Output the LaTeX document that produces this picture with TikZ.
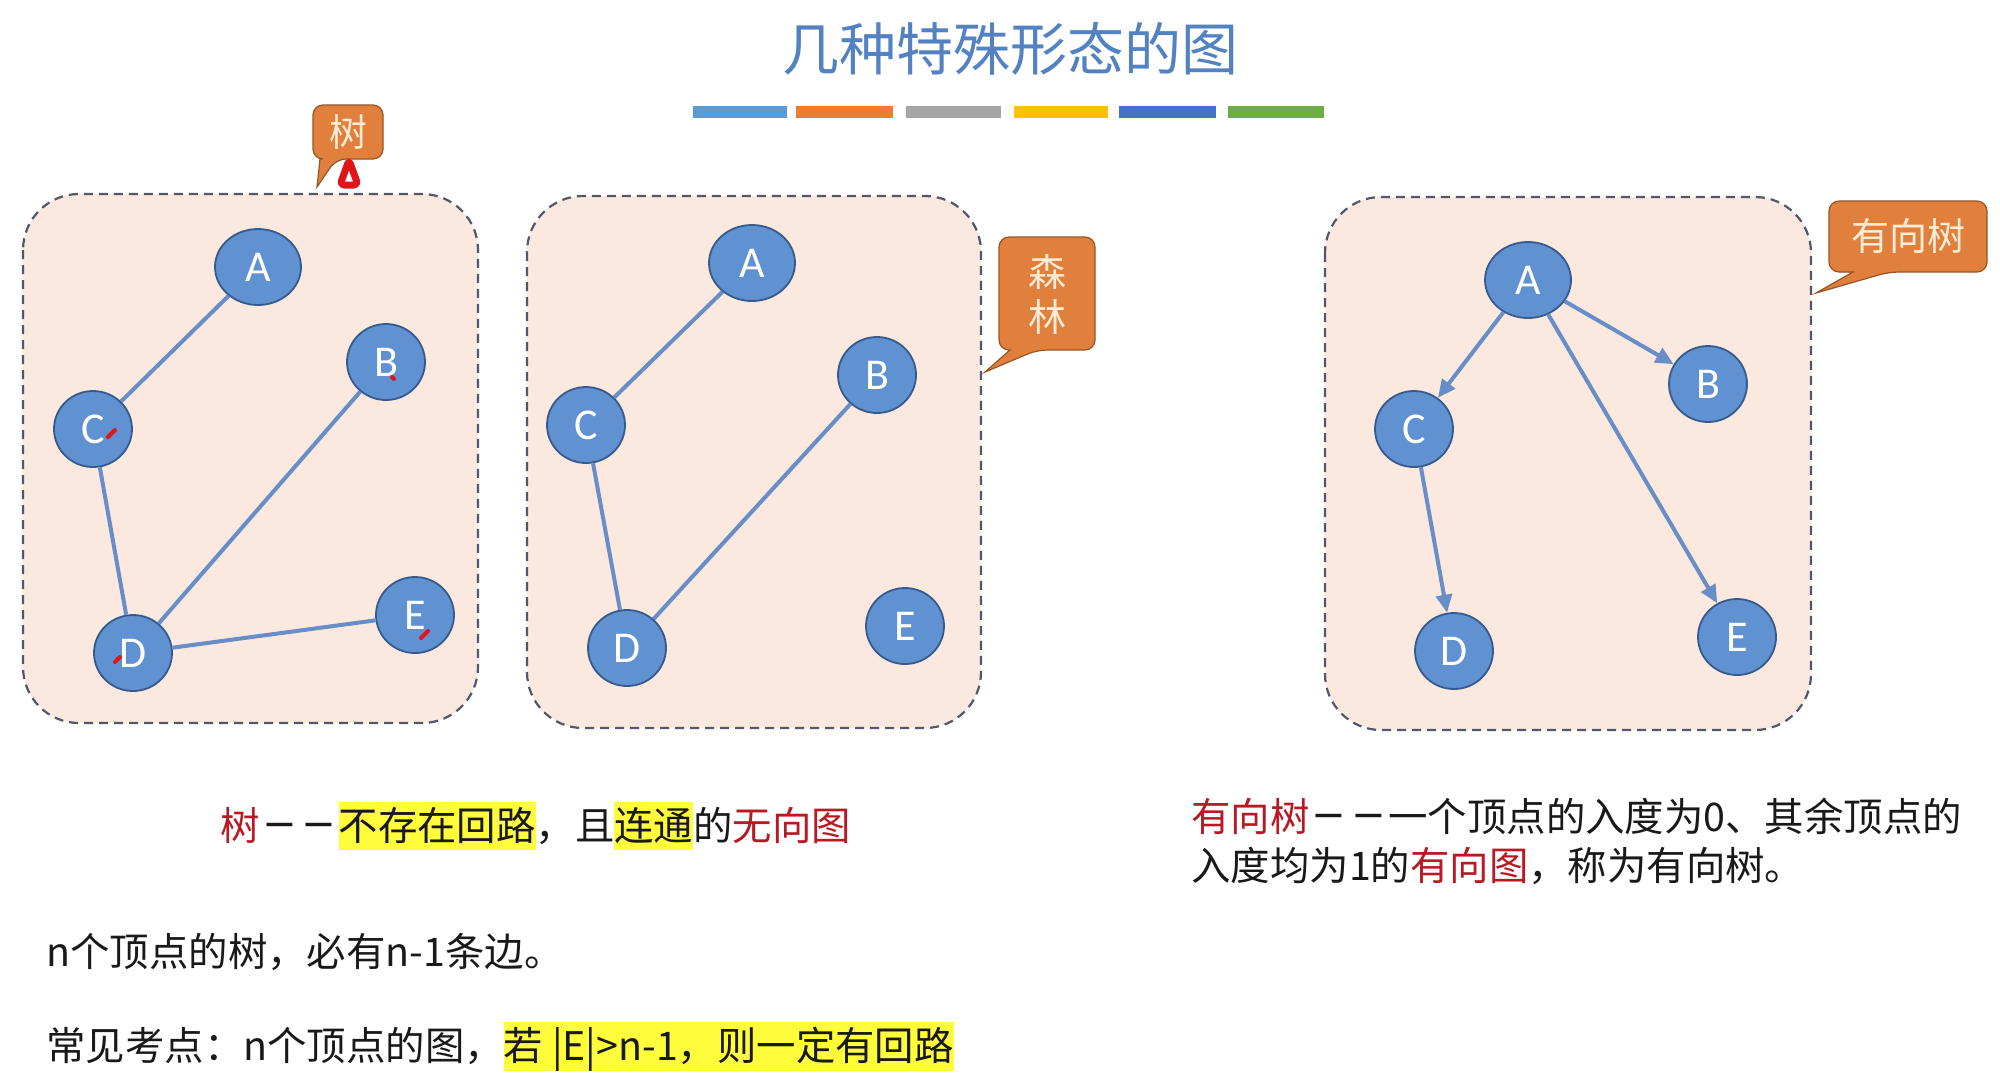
\documentclass[tikz,border=0pt]{standalone}
\usepackage{fontspec}
\usetikzlibrary{shapes.geometric,arrows.meta}
\newfontfamily\cjk{Noto Sans CJK SC}
\newfontfamily\latf{Carlito}
\definecolor{boxfill}{RGB}{251,232,222}
\definecolor{boxedge}{RGB}{80,88,108}
\definecolor{vfill}{RGB}{96,145,208}
\definecolor{vedge}{RGB}{55,90,140}
\definecolor{edgec}{RGB}{104,142,200}
\definecolor{callfill}{RGB}{224,128,60}
\definecolor{calledge}{RGB}{150,85,40}
\definecolor{calltext}{RGB}{255,236,214}
\definecolor{titlec}{RGB}{82,130,194}
\definecolor{darkred}{RGB}{185,25,35}
\definecolor{penred}{RGB}{225,20,25}
\definecolor{hly}{RGB}{255,252,60}
\definecolor{txt}{RGB}{25,25,25}
\definecolor{barA}{RGB}{91,155,213}
\definecolor{barB}{RGB}{237,125,49}
\definecolor{barC}{RGB}{165,165,165}
\definecolor{barD}{RGB}{255,192,0}
\definecolor{barE}{RGB}{68,114,196}
\definecolor{barF}{RGB}{112,173,71}
\newcommand\hilite[1]{{\setlength{\fboxsep}{0pt}\colorbox{hly}{\rule[-5pt]{0pt}{24pt}#1}}}
\newcommand\redtxt[1]{{\color{darkred}#1}}
\newcommand\dsh{\makebox[1em][c]{\scalebox{0.82}[1.4]{—}}}
\tikzset{
  grpbox/.style={draw=boxedge, fill=boxfill, line width=1.1pt, dash pattern=on 4.5pt off 3pt, rounded corners=28pt},
  vtx/.style={ellipse, draw=vedge, line width=0.9pt, fill=vfill, text=white,
    font=\latf\fontsize{22}{22}\selectfont, minimum width=39pt, minimum height=38pt, inner sep=0pt},
  wide/.style={minimum width=43pt},
  tedge/.style={draw=edgec, line width=2pt},
  arr/.style={tedge, -{Triangle[length=9pt,width=8pt]}},
  callout/.style={fill=callfill, draw=calledge, line width=0.6pt},
  calltxt/.style={text=calltext, font=\cjk\fontsize{19}{22.5}\selectfont, inner sep=0pt, align=center},
  body/.style={text=txt, font=\cjk\fontsize{19.7}{24}\selectfont, inner sep=0pt, anchor=base west},
  pen/.style={draw=penred, line width=2pt, line cap=round}
}
\begin{document}
\begin{tikzpicture}[x=0.5pt,y=-0.5pt]
\useasboundingbox (0,0) rectangle (2000,1077);
\fill[white] (0,0) rectangle (2000,1077);

% title and bars
\node[font=\cjk\fontsize{28.5}{30}\selectfont, text=titlec] (title) at (1010,49) {几种特殊形态的图};
\fill[barA] (693,106) rectangle (787,118);
\fill[barB] (796,106) rectangle (893,118);
\fill[barC] (906,106) rectangle (1001,118);
\fill[barD] (1014,106) rectangle (1108,118);
\fill[barE] (1119,106) rectangle (1216,118);
\fill[barF] (1228,106) rectangle (1324,118);

% group boxes
\draw[grpbox] (23,194) rectangle (478,723);
\draw[grpbox] (527,196) rectangle (981,728);
\draw[grpbox] (1325,197) rectangle (1811,730);

% tree
\node[vtx, wide] (tA) at (258,267) {A};
\node[vtx] (tB) at (386,362) {B};
\node[vtx] (tC) at (93,429) {C};
\node[vtx] (tD) at (133,653) {D};
\node[vtx] (tE) at (415,615) {E};
\draw[tedge] (tA) -- (tC);
\draw[tedge] (tC) -- (tD);
\draw[tedge] (tD) -- (tB);
\draw[tedge] (tD) -- (tE);

% forest
\node[vtx, wide] (fA) at (752,263) {A};
\node[vtx] (fB) at (877,375) {B};
\node[vtx] (fC) at (586,425) {C};
\node[vtx] (fD) at (627,648) {D};
\node[vtx] (fE) at (905,626) {E};
\draw[tedge] (fA) -- (fC);
\draw[tedge] (fC) -- (fD);
\draw[tedge] (fD) -- (fB);

% directed tree
\node[vtx, wide] (dA) at (1528,280) {A};
\node[vtx] (dB) at (1708,384) {B};
\node[vtx] (dC) at (1414,429) {C};
\node[vtx] (dD) at (1454,651) {D};
\node[vtx] (dE) at (1737,637) {E};
\draw[arr] (dA) -- (dC);
\draw[arr] (dA) -- (dB);
\draw[arr] (dA) -- (dE);
\draw[arr] (dC) -- (dD);

% callouts
\path[callout] (348,105) [rounded corners=5pt] -- (383,105) -- (383,159) -- (336,159)
  [sharp corners] -- (317,187) -- (320,159) [rounded corners=5pt] -- (313,159) -- (313,105) -- cycle;
\node[calltxt] (c1) at (348,132) {树};
\path[callout] (1047,237) [rounded corners=5pt] -- (1095,237) -- (1095,350) -- (1037,350)
  [sharp corners] -- (985,372) -- (1010,350) [rounded corners=5pt] -- (999,350) -- (999,237) -- cycle;
\node[calltxt] (c2) at (1047,294) {森\\林};
\path[callout] (1908,201) [rounded corners=5pt] -- (1987,201) -- (1987,272) -- (1889,272)
  [sharp corners] -- (1816,293) -- (1853,272) [rounded corners=5pt] -- (1829,272) -- (1829,201) -- cycle;
\node[calltxt] (c3) at (1908,236) {有向树};

% pen marks
\draw[draw=penred, fill=white, line width=3.5pt, rounded corners=2pt, line join=round]
  (349,160) -- (358,185) -- (340,185) -- cycle;
\draw[pen] (108,437) -- (115,430);
\draw[pen] (392,377) -- (394,379);
\draw[pen] (115,662) -- (120,657);
\draw[pen] (421,638) -- (428,631);

% texts
\node[body] (l1) at (220,840) {\redtxt{树}\dsh\dsh\hilite{不存在回路}，且\hilite{连通}的\redtxt{无向图}};
\node[body] (l2) at (46,966) {n个顶点的树，必有n-1条边。};
\node[body] (l3) at (46,1060) {常见考点：n个顶点的图，\hilite{若 |E|>n-1，则一定有回路}};
\node[body] (r1) at (1191,831) {\redtxt{有向树}\dsh\dsh 一个顶点的入度为0、其余顶点的};
\node[body] (r2) at (1191,880) {入度均为1的\redtxt{有向图}，称为有向树。};
\end{tikzpicture}
\end{document}
